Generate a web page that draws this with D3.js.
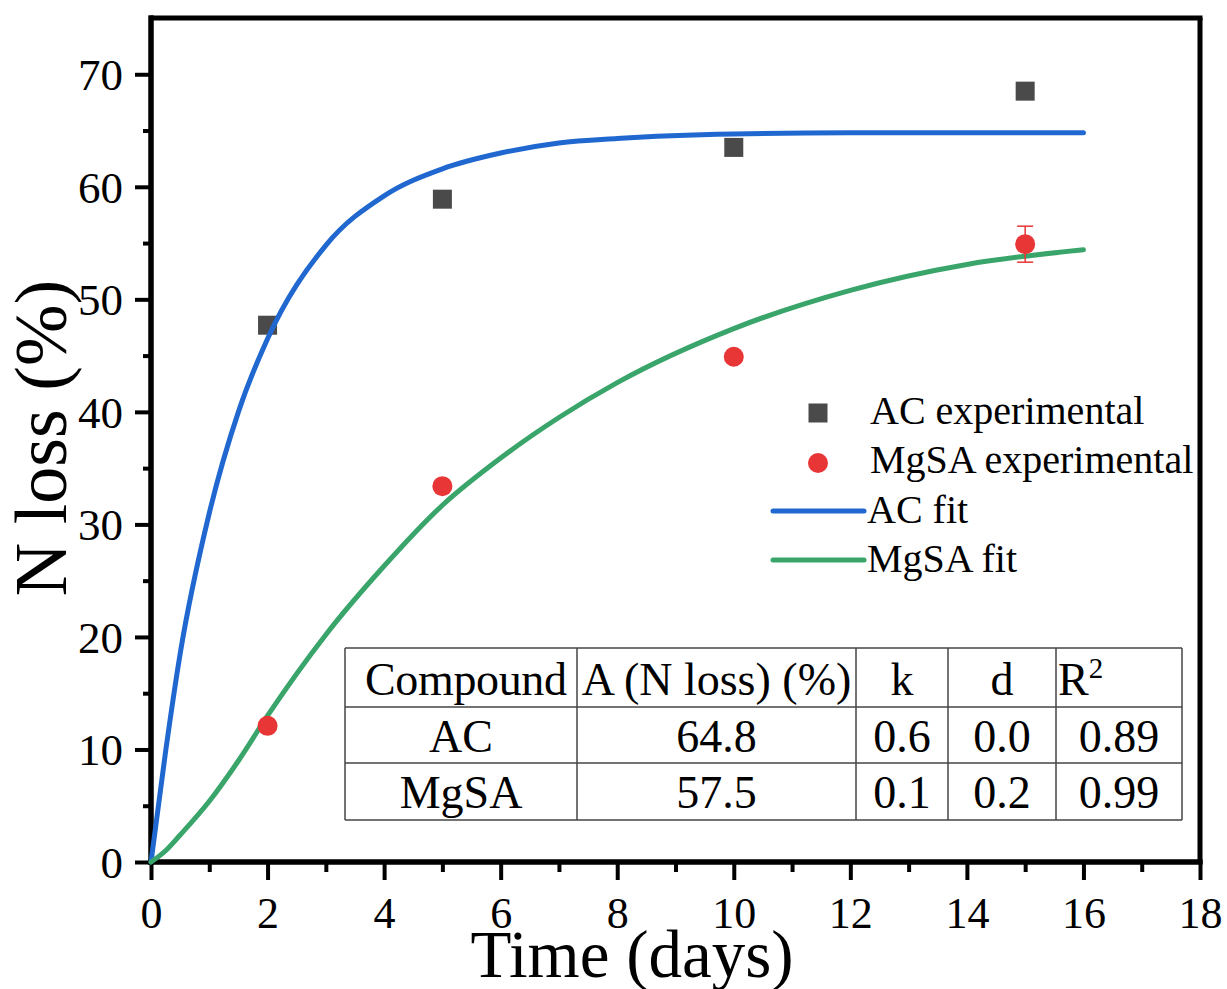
<!DOCTYPE html>
<html><head><meta charset="utf-8">
<script src="https://cdn.jsdelivr.net/npm/d3@7"></script>
<style>html,body{margin:0;padding:0;background:#fff}svg{display:block}</style>
</head><body>
<svg id="c" width="1227" height="989"></svg>
<script>
// ---- data ----
const days = [2, 5, 10, 15];
const acExperimental = [47.7, 58.9, 63.5, 68.5];
const mgsaExperimental = [12.1, 33.4, 44.9, 54.9];
const mgsaError = [0, 0, 0, 1.6];

const fitTime = [0, 0.25, 0.5, 1, 1.5, 2, 3, 4, 5, 6, 7, 8, 10, 12, 14, 16];
const acFit   = [0, 9.8, 18.5, 31.0, 40.0, 46.5, 54.8, 59.2, 61.6, 63.0, 63.9, 64.3, 64.7, 64.8, 64.8, 64.8];
const mgsaFit = [0, 1.0, 2.4, 5.4, 9.0, 13.0, 20.2, 26.3, 31.7, 35.9, 39.5, 42.6, 47.4, 50.8, 53.1, 54.4];

const xTicks = [0, 2, 4, 6, 8, 10, 12, 14, 16, 18];
const yTicks = [0, 10, 20, 30, 40, 50, 60, 70];

const legendLabels = ["AC experimental", "MgSA experimental", "AC fit", "MgSA fit"];

const tableHeader = ["Compound", "A (N loss) (%)", "k", "d", "R2"];
const tableCompounds = ["AC", "MgSA"];
const tableA = ["64.8", "57.5"];
const tableK = ["0.6", "0.1"];
const tableD = ["0.0", "0.2"];
const tableR2 = ["0.89", "0.99"];

// ---- styling ----
const FONT = "'Liberation Serif','Times New Roman',serif";
const BLUE = "#2068d0", GREEN = "#3aa56a", RED = "#e83535", GRAY = "#4a4a4a";

const svg = d3.select("#c");
const L = 151, R = 1200, T = 18, B = 862;
const x = d3.scaleLinear().domain([0, 18]).range([L, R]);
const y = d3.scaleLinear().domain([0, 75]).range([B, T]);

// frame top/right
svg.append("line").attr("x1", L).attr("x2", R + 2.5).attr("y1", T).attr("y2", T).attr("stroke", "#000").attr("stroke-width", 5);
svg.append("line").attr("x1", R).attr("x2", R).attr("y1", T).attr("y2", B).attr("stroke", "#000").attr("stroke-width", 5);

// x axis
const gx = svg.append("g").attr("transform", `translate(0,${B})`);
gx.call(d3.axisBottom(x).tickValues(d3.range(1, 18, 2)).tickSize(10).tickFormat(""));
const gx2 = svg.append("g").attr("transform", `translate(0,${B})`);
gx2.call(d3.axisBottom(x).tickValues(xTicks).tickSize(18).tickPadding(16).tickFormat(d3.format("d")));
[gx, gx2].forEach(g => {
  g.select(".domain").attr("stroke-width", 5).attr("d", `M${L - 2.5},0H${R + 2.5}`);
  g.selectAll(".tick line").attr("stroke", "#000").attr("stroke-width", 4);
});
gx2.selectAll(".tick text").attr("font-family", FONT).attr("font-size", 44).attr("fill", "#000").attr("dy", "0.72em");

// y axis
const gy = svg.append("g").attr("transform", `translate(${L},0)`);
gy.call(d3.axisLeft(y).tickValues(d3.range(5, 75, 10)).tickSize(8).tickFormat(""));
const gy2 = svg.append("g").attr("transform", `translate(${L},0)`);
gy2.call(d3.axisLeft(y).tickValues(yTicks).tickSize(16).tickPadding(12).tickFormat(d3.format("d")));
[gy, gy2].forEach(g => {
  g.select(".domain").attr("stroke-width", 5).attr("d", `M0,${B + 2.5}V${T - 2.5}`);
  g.selectAll(".tick line").attr("stroke", "#000").attr("stroke-width", 4);
});
gy2.selectAll(".tick text").attr("font-family", FONT).attr("font-size", 45).attr("fill", "#000").attr("dy", "0.34em");

// axis titles
svg.append("text").attr("x", 632).attr("y", 977).attr("text-anchor", "middle")
  .attr("font-family", FONT).attr("font-size", 67).text("Time (days)");
svg.append("text").attr("transform", "translate(66,438) rotate(-90)").attr("text-anchor", "middle")
  .attr("font-family", FONT).attr("font-size", 74).text("N loss (%)");

// table
const cols = [345, 577, 856, 948, 1056, 1182];
const rows = [648, 707, 763, 820];
const tg = svg.append("g");
rows.forEach(r => tg.append("line").attr("x1", cols[0]).attr("x2", cols[cols.length - 1]).attr("y1", r).attr("y2", r).attr("stroke", "#444").attr("stroke-width", 1.5));
cols.forEach(c => tg.append("line").attr("x1", c).attr("x2", c).attr("y1", rows[0]).attr("y2", rows[rows.length - 1]).attr("stroke", "#444").attr("stroke-width", 1.5));
const baselines = [695, 752, 808];
const tableRows = [tableHeader,
  [tableCompounds[0], tableA[0], tableK[0], tableD[0], tableR2[0]],
  [tableCompounds[1], tableA[1], tableK[1], tableD[1], tableR2[1]]];
tableRows.forEach((row, ri) => {
  row.forEach((cell, ci) => {
    const t = tg.append("text").attr("y", baselines[ri]).attr("font-family", FONT).attr("font-size", 46).attr("fill", "#000");
    if (ri === 0 && ci === 4) {
      t.attr("x", cols[4] + 2).attr("text-anchor", "start");
      t.append("tspan").text("R");
      t.append("tspan").attr("font-size", 29).attr("dy", -17).text("2");
    } else if (ri === 0 && ci === 0) {
      t.attr("x", cols[0] + 20).attr("text-anchor", "start").attr("textLength", 202).text(cell);
    } else {
      t.attr("x", (cols[ci] + cols[ci + 1]) / 2).attr("text-anchor", "middle").text(cell);
    }
  });
});

// experimental AC squares
const S = 19;
svg.append("g").selectAll("rect").data(days).join("rect")
  .attr("x", (d) => x(d) - S / 2).attr("y", (d, i) => y(acExperimental[i]) - S / 2)
  .attr("width", S).attr("height", S).attr("fill", GRAY);

// fit lines
const line = (vals) => d3.line().x((d, i) => x(fitTime[i])).y((d, i) => y(vals[i])).curve(d3.curveMonotoneX)(vals);
svg.append("path").attr("d", line(acFit)).attr("fill", "none").attr("stroke", BLUE).attr("stroke-width", 5).attr("stroke-linecap", "round");
svg.append("path").attr("d", line(mgsaFit)).attr("fill", "none").attr("stroke", GREEN).attr("stroke-width", 5).attr("stroke-linecap", "round");

// error bars
const eg = svg.append("g");
days.forEach((d, i) => {
  if (mgsaError[i] > 0) {
    const cx = x(d), y1 = y(mgsaExperimental[i] + mgsaError[i]), y0 = y(mgsaExperimental[i] - mgsaError[i]);
    eg.append("line").attr("x1", cx).attr("x2", cx).attr("y1", y1).attr("y2", y0).attr("stroke", RED).attr("stroke-width", 1.5);
    eg.append("line").attr("x1", cx - 8).attr("x2", cx + 8).attr("y1", y1).attr("y2", y1).attr("stroke", RED).attr("stroke-width", 1.5);
    eg.append("line").attr("x1", cx - 8).attr("x2", cx + 8).attr("y1", y0).attr("y2", y0).attr("stroke", RED).attr("stroke-width", 1.5);
  }
});
// MgSA circles
svg.append("g").selectAll("circle").data(days).join("circle")
  .attr("cx", d => x(d)).attr("cy", (d, i) => y(mgsaExperimental[i])).attr("r", 10).attr("fill", RED);

// legend
const lg = svg.append("g").attr("font-family", FONT).attr("font-size", 40);
lg.append("rect").attr("x", 818 - S / 2).attr("y", 413 - S / 2).attr("width", S).attr("height", S).attr("fill", GRAY);
lg.append("circle").attr("cx", 818).attr("cy", 463).attr("r", 10).attr("fill", RED);
lg.append("line").attr("x1", 773).attr("x2", 864).attr("y1", 511).attr("y2", 511).attr("stroke", BLUE).attr("stroke-width", 5).attr("stroke-linecap", "round");
lg.append("line").attr("x1", 773).attr("x2", 864).attr("y1", 560).attr("y2", 560).attr("stroke", GREEN).attr("stroke-width", 5).attr("stroke-linecap", "round");
const lbase = [424, 473, 523, 572];
const lx = [870, 870, 867, 867];
legendLabels.forEach((t, i) => lg.append("text").attr("x", lx[i]).attr("y", lbase[i]).text(t));
</script>
</body></html>
